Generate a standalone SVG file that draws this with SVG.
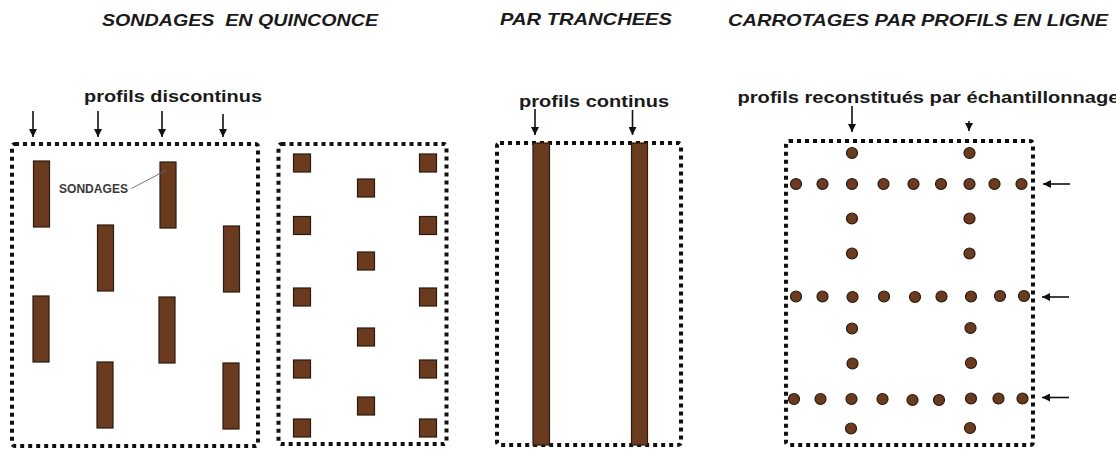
<svg xmlns="http://www.w3.org/2000/svg" width="1116" height="453" viewBox="0 0 1116 453">
<style>
.title{font-family:"Liberation Sans",Arial,sans-serif;font-weight:bold;font-style:italic;font-size:17px;fill:#1a1a1a}
.lbl{font-family:"Liberation Sans",Arial,sans-serif;font-weight:bold;font-size:17px;fill:#1a1a1a}
.small{font-family:"Liberation Sans",Arial,sans-serif;font-weight:bold;font-size:12px;fill:#3a3a3a}
.box{fill:none;stroke:#111;stroke-width:4;stroke-dasharray:4 4}
.core{fill:#6b3b1f;stroke:#2b1a0e;stroke-width:1.2}
.arr{stroke:#111;stroke-width:1.6;fill:none;marker-end:url(#ah)}
</style>
<defs>
<marker id="ah" viewBox="0 0 10 10" refX="10" refY="5" markerWidth="10" markerHeight="8" markerUnits="userSpaceOnUse" orient="auto">
<path d="M0,0 L10,5 L0,10 z" fill="#111"/>
</marker>
</defs>
<rect width="1116" height="453" fill="#fff"/>

<g id="titles">
<text class="title" x="102" y="26" textLength="276" lengthAdjust="spacingAndGlyphs" xml:space="preserve">SONDAGES  EN QUINCONCE</text>
<text class="title" x="500" y="25" textLength="172" lengthAdjust="spacingAndGlyphs">PAR TRANCHEES</text>
<text class="title" x="728" y="26" textLength="380" lengthAdjust="spacingAndGlyphs">CARROTAGES PAR PROFILS EN LIGNE</text>
</g>

<g id="panel-quinconce-1">
<text class="lbl" x="84" y="102" textLength="178" lengthAdjust="spacingAndGlyphs">profils discontinus</text>
<rect class="box" x="12" y="144" width="246" height="302" rx="3"/>
<rect class="core" x="33.5" y="161" width="16" height="66"/>
<rect class="core" x="160" y="162" width="16" height="66"/>
<rect class="core" x="97.5" y="225" width="16" height="66"/>
<rect class="core" x="223.5" y="226" width="16" height="66"/>
<rect class="core" x="33" y="296" width="16" height="66"/>
<rect class="core" x="159" y="297" width="16" height="66"/>
<rect class="core" x="97" y="362" width="16" height="66"/>
<rect class="core" x="223" y="363" width="16" height="66"/>
<text class="small" x="59" y="192.5" textLength="69" lengthAdjust="spacingAndGlyphs">SONDAGES</text>
<line x1="131.5" y1="188.5" x2="166.5" y2="170" stroke="#666" stroke-width="0.9"/>
</g>

<g id="panel-quinconce-2">
<rect class="box" x="278.5" y="144" width="168" height="300" rx="3"/>
<rect class="core" x="293.5" y="154" width="17" height="18"/>
<rect class="core" x="419.5" y="154" width="17" height="18"/>
<rect class="core" x="357.5" y="179" width="17" height="18"/>
<rect class="core" x="293.5" y="216.5" width="17" height="18"/>
<rect class="core" x="419.5" y="216.5" width="17" height="18"/>
<rect class="core" x="357.5" y="252" width="17" height="18"/>
<rect class="core" x="293.5" y="288" width="17" height="18"/>
<rect class="core" x="419.5" y="288" width="17" height="18"/>
<rect class="core" x="357.5" y="328" width="17" height="18"/>
<rect class="core" x="293.5" y="360" width="17" height="18"/>
<rect class="core" x="419.5" y="360" width="17" height="18"/>
<rect class="core" x="357.5" y="397" width="17" height="18"/>
<rect class="core" x="293.5" y="419" width="17" height="18"/>
<rect class="core" x="419.5" y="419" width="17" height="18"/>
</g>

<g id="panel-tranchees">
<text class="lbl" x="519" y="107" textLength="150" lengthAdjust="spacingAndGlyphs">profils continus</text>
<rect class="box" x="497" y="143" width="184" height="302" rx="3"/>
<rect class="core" x="533" y="143" width="16.5" height="302"/>
<rect class="core" x="631.5" y="143" width="16" height="302"/>
</g>

<g id="panel-carrotages">
<text class="lbl" x="737.5" y="103" textLength="382" lengthAdjust="spacingAndGlyphs">profils reconstitués par échantillonnage</text>
<rect class="box" x="786" y="141" width="247" height="304" rx="3"/>
<g class="core">
<circle cx="852" cy="153" r="5.5"/><circle cx="969.5" cy="153" r="5.5"/>
<circle cx="796" cy="184" r="5.5"/><circle cx="822.5" cy="184" r="5.5"/><circle cx="852" cy="184" r="5.5"/><circle cx="883.5" cy="184" r="5.5"/><circle cx="913.5" cy="184" r="5.5"/><circle cx="941" cy="184" r="5.5"/><circle cx="969.5" cy="184" r="5.5"/><circle cx="994.5" cy="184" r="5.5"/><circle cx="1021.5" cy="184" r="5.5"/>
<circle cx="852" cy="218.5" r="5.5"/><circle cx="969.5" cy="218.5" r="5.5"/>
<circle cx="852" cy="253.5" r="5.5"/><circle cx="969.5" cy="253.5" r="5.5"/>
<circle cx="796" cy="296.5" r="5.5"/><circle cx="822.5" cy="296.5" r="5.5"/><circle cx="852.5" cy="297" r="5.5"/><circle cx="884" cy="296.5" r="5.5"/><circle cx="915" cy="297" r="5.5"/><circle cx="941.5" cy="296.5" r="5.5"/><circle cx="971" cy="296.5" r="5.5"/><circle cx="1000" cy="296" r="5.5"/><circle cx="1024" cy="296" r="5.5"/>
<circle cx="852" cy="328.5" r="5.5"/><circle cx="970.5" cy="328" r="5.5"/>
<circle cx="852.5" cy="363.5" r="5.5"/><circle cx="971" cy="363" r="5.5"/>
<circle cx="794" cy="399" r="5.5"/><circle cx="820.5" cy="399" r="5.5"/><circle cx="851.5" cy="399" r="5.5"/><circle cx="882.5" cy="399" r="5.5"/><circle cx="912.5" cy="400" r="5.5"/><circle cx="939" cy="400" r="5.5"/><circle cx="971" cy="398.5" r="5.5"/><circle cx="998.5" cy="398.5" r="5.5"/><circle cx="1022.5" cy="398.5" r="5.5"/>
<circle cx="851" cy="428.5" r="5.5"/><circle cx="970" cy="428" r="5.5"/>
</g>
</g>

<g id="connectors">
<line class="arr" x1="33" y1="111" x2="33" y2="137"/>
<line class="arr" x1="98" y1="111" x2="98" y2="137"/>
<line class="arr" x1="162" y1="111" x2="162" y2="137"/>
<line class="arr" x1="223" y1="114" x2="223" y2="137"/>
<line class="arr" x1="535" y1="109" x2="535" y2="135"/>
<line class="arr" x1="632.5" y1="110" x2="632.5" y2="135"/>
<line class="arr" x1="852" y1="106" x2="852" y2="132"/>
<line class="arr" x1="969" y1="121" x2="969" y2="131"/>
<line class="arr" x1="1070" y1="184" x2="1043" y2="184"/>
<line class="arr" x1="1069" y1="297" x2="1042" y2="297"/>
<line class="arr" x1="1069" y1="397.5" x2="1042" y2="397.5"/>
</g>
</svg>
